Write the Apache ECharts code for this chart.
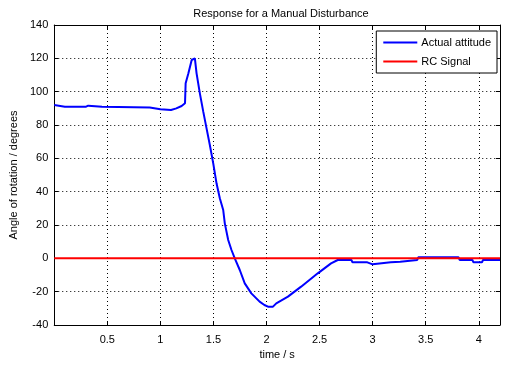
<!DOCTYPE html>
<html>
<head>
<meta charset="utf-8">
<script src="https://cdn.jsdelivr.net/npm/echarts@6/dist/echarts.min.js"></script>
<style>html,body{margin:0;padding:0;background:#fff;}#c{width:520px;height:369px;}</style>
</head>
<body>
<div id="c"></div>
<script>
var time = [0, 0.1, 0.3, 0.32, 0.45, 0.9, 1.0, 1.1, 1.15, 1.2, 1.232, 1.238, 1.264, 1.295, 1.31, 1.325, 1.341, 1.372, 1.404, 1.435, 1.466, 1.498, 1.529, 1.56, 1.592, 1.607, 1.639, 1.67, 1.701, 1.748, 1.795, 1.857, 1.935, 1.98, 2.014, 2.061, 2.092, 2.202, 2.326, 2.483, 2.608, 2.671, 2.80, 2.81, 2.95, 2.96, 3.0, 3.01, 3.17, 3.18, 3.26, 3.27, 3.42, 3.43, 3.81, 3.82, 3.94, 3.95, 4.03, 4.04, 4.2];
var attitude = [92, 91, 91, 91.6, 91, 90.5, 89.5, 89, 90, 91.4, 93, 105, 111, 119, 120, 120, 111, 99, 88, 78, 68, 57, 45, 36, 29, 21, 11, 5, 0, -7, -15, -21, -26, -28, -29, -29, -27, -23, -17, -9, -3, -1, -1, -2.4, -2.4, -3.6, -3.6, -2.4, -2.4, -2, -2, -1, -1, 0.6, 0.6, -1, -1, -2.4, -2.4, -1, -1];
var rcTime = [0, 4.2];
var rcSignal = [0, 0];
var xTicks = {min: 0, max: 4.2, interval: 0.5};
var yTicks = {min: -40, max: 140, interval: 20};

function pairs(xs, ys) { return xs.map(function (x, i) { return [x, ys[i]]; }); }

var font = 'Liberation Sans, Arial, sans-serif';
var chart = echarts.init(document.getElementById('c'), null, {renderer: 'canvas'});
var axisCommon = {
  axisLine: {show: true, onZero: false, lineStyle: {color: '#000', width: 1}},
  axisTick: {show: true, inside: true, length: 4, lineStyle: {color: '#000'}},
  splitLine: {show: false}
};
chart.setOption({
  animation: false,
  backgroundColor: '#fff',
  title: {
    text: 'Response for a Manual Disturbance',
    left: 276, textAlign: 'center', top: 3,
    textStyle: {fontFamily: font, fontSize: 11, fontWeight: 'normal', color: '#000'}
  },
  grid: {left: 51, right: 20, top: 25, bottom: 44, containLabel: false},
  legend: {
    orient: 'vertical', right: 23, top: 31,
    backgroundColor: '#fff', borderColor: '#000', borderWidth: 1,
    padding: [6, 6, 6, 7], itemGap: 8,
    itemWidth: 34, itemHeight: 2, icon: 'rect',
    textStyle: {fontFamily: font, fontSize: 11, color: '#000', padding: [0, 0, 0, -1]},
    data: ['Actual attitude', 'RC Signal']
  },
  xAxis: [
    Object.assign({}, axisCommon, {
      type: 'value', min: xTicks.min, max: xTicks.max, interval: xTicks.interval,
      name: 'time / s', nameLocation: 'middle', nameGap: 24,
      nameTextStyle: {fontFamily: font, fontSize: 11, color: '#000'},
      axisLabel: {fontFamily: font, fontSize: 11, color: '#000', margin: 9, showMaxLabel: false,
        formatter: function (v) { return v === 0 ? '' : String(v); }},
      splitLine: {show: true, lineStyle: {color: '#000', type: [1, 3], width: 1}}
    }),
    Object.assign({}, axisCommon, {
      type: 'value', position: 'top', min: xTicks.min, max: xTicks.max, interval: xTicks.interval,
      axisLabel: {show: false}
    })
  ],
  yAxis: [
    Object.assign({}, axisCommon, {
      type: 'value', min: yTicks.min, max: yTicks.max, interval: yTicks.interval,
      name: 'Angle of rotation / degrees', nameLocation: 'middle', nameGap: 26,
      nameTextStyle: {fontFamily: font, fontSize: 11, color: '#000'},
      axisLabel: {fontFamily: font, fontSize: 11, color: '#000', margin: 6},
      splitLine: {show: true, lineStyle: {color: '#000', type: [1, 3], width: 1}}
    }),
    Object.assign({}, axisCommon, {
      type: 'value', position: 'right', min: yTicks.min, max: yTicks.max, interval: yTicks.interval,
      axisLabel: {show: false}
    })
  ],
  series: [
    {
      name: 'Actual attitude', type: 'line', data: pairs(time, attitude),
      showSymbol: false, symbol: 'none', color: '#0000ff',
      lineStyle: {color: '#0000ff', width: 2}
    },
    {
      name: 'RC Signal', type: 'line', data: pairs(rcTime, rcSignal),
      showSymbol: false, symbol: 'none', color: '#ff0000',
      lineStyle: {color: '#ff0000', width: 2}, z: 3
    }
  ]
});
</script>
</body>
</html>
